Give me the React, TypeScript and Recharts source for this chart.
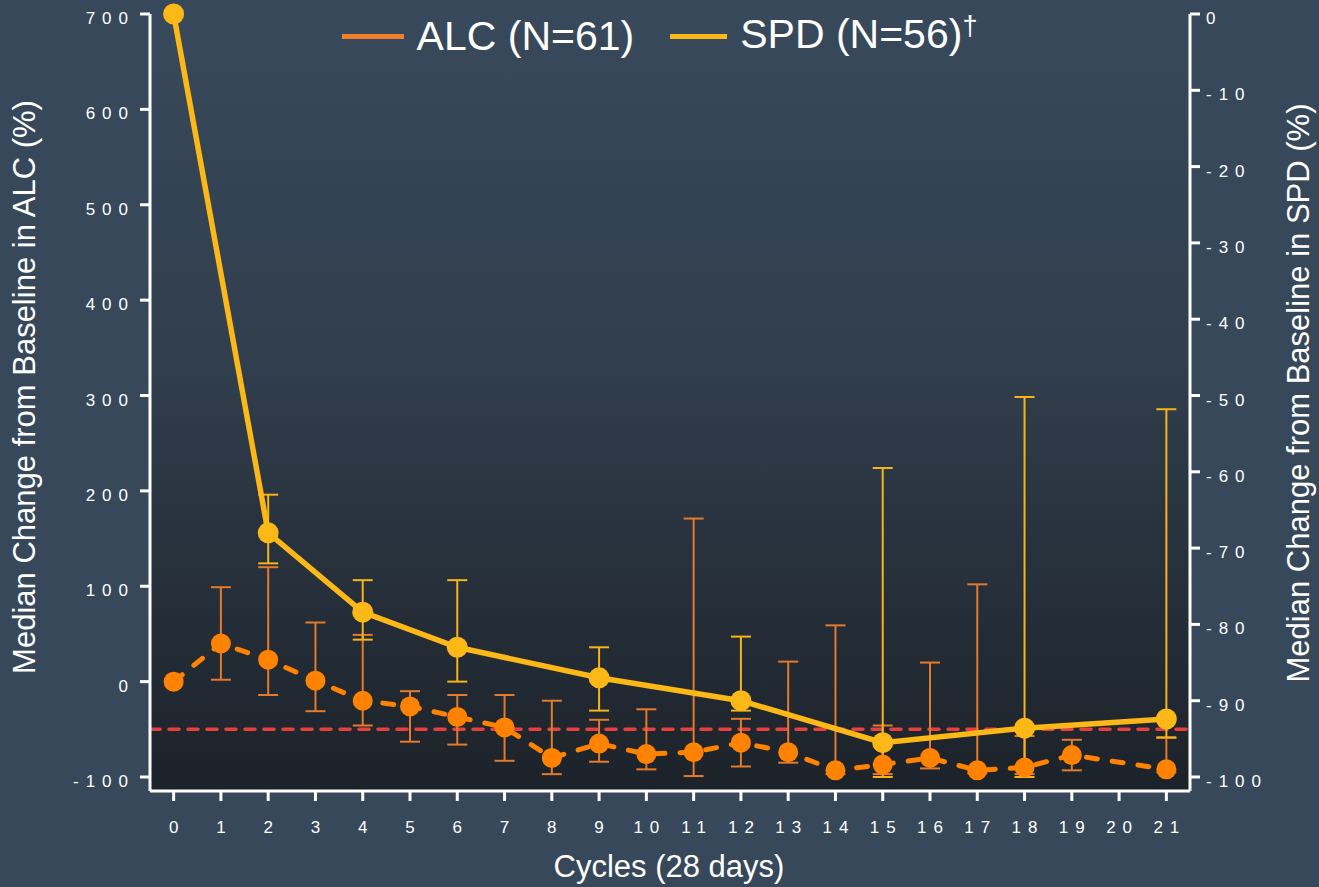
import React from 'react'
import { LineChart, Line, XAxis, YAxis, ErrorBar, ReferenceLine, CartesianGrid, Legend } from 'recharts'

const FONT = '"Liberation Sans", Arial, sans-serif'
const BG = '#37485a'
const ALC_COLOR = '#ff8200'
const ALC_BAR = '#e47a2c'
const ALC_LEGEND = '#f08029'
const SPD_COLOR = '#fbb817'
const SPD_BAR = '#f6b418'

// cycles (28 days)
const CYCLES = [0, 1, 2, 3, 4, 5, 6, 7, 8, 9, 10, 11, 12, 13, 14, 15, 16, 17, 18, 19, 20, 21]

// ALC median change from baseline (%), with lower / upper error bounds
const ALC_MEDIAN = [0, 40, 23, 1, -20, -26, -37, -48, -80, -65, -76, -74, -64, -74, -93, -87, -80, -93, -90, -77, null, -92]
const ALC_LOW = [null, 2, -14, -31, -46, -63, -66, -83, -97, -84, -92, -99, -89, -85, -97, -97, -91, -96, -97, -93, null, -95]
const ALC_HIGH = [null, 99, 120, 62, 49, -10, -14, -14, -20, -40, -29, 171, -39, 21, 59, -46, 20, 102, -57, -61, null, -59]

// SPD median change from baseline (%), right axis
const SPD_MEDIAN = [0, null, -68, null, -78.4, null, -83, null, null, -87, null, null, -90, null, null, -95.5, null, null, -93.6, null, null, -92.4]
const SPD_LOW = [null, null, -72, null, -82, null, -87.5, null, null, -91.3, null, null, -91.3, null, null, -100, null, null, -100, null, null, -94.8]
const SPD_HIGH = [null, null, -63, null, -74.2, null, -74.2, null, null, -83, null, null, -81.6, null, null, -59.5, null, null, -50.2, null, null, -51.8]

const LEFT_TICKS = [-100, 0, 100, 200, 300, 400, 500, 600, 700]
const RIGHT_TICKS = [-100, -90, -80, -70, -60, -50, -40, -30, -20, -10, 0]
const THRESHOLD = -50

const data = CYCLES.map((c, i) => {
  const a = ALC_MEDIAN[i]
  const s = SPD_MEDIAN[i]
  return {
    cycle: c,
    alc: a,
    alcErr: a != null && ALC_LOW[i] != null ? [a - (ALC_LOW[i] as number), (ALC_HIGH[i] as number) - a] : undefined,
    spd: s,
    spdErr: s != null && SPD_LOW[i] != null ? [s - (SPD_LOW[i] as number), (SPD_HIGH[i] as number) - s] : undefined,
  }
})

const tickText = { fill: '#fff', fontSize: 17, fontFamily: FONT, letterSpacing: 7 }

function LeftTick({ x, y, payload }: any) {
  return <text x={x} y={y} dx={-3} dy={10} textAnchor="end" {...tickText}>{payload.value}</text>
}

function RightTick({ x, y, payload }: any) {
  return <text x={x} y={y} dx={4} dy={10} textAnchor="start" {...tickText}>{payload.value}</text>
}

function BottomTick({ x, y, payload }: any) {
  return <text x={x} y={y} dx={3.5} dy={30} textAnchor="middle" {...tickText}>{payload.value}</text>
}

const titleStyle = { fill: '#fff', fontSize: 31, fontFamily: FONT }

function LegendContent() {
  const item = (color: string, label: React.ReactNode, iconW: number) => (
    <div style={{ display: 'flex', alignItems: 'center', height: 41 }}>
      <div style={{ width: iconW, height: 5, background: color, marginRight: 13 }} />
      <span style={{ fontSize: 41, lineHeight: '41px', color: '#fff', fontFamily: FONT, whiteSpace: 'nowrap' }}>{label}</span>
    </div>
  )
  return (
    <div style={{ display: 'flex', justifyContent: 'center', gap: 36 }}>
      {item(ALC_LEGEND, 'ALC (N=61)', 62)}
      {item(
        SPD_COLOR,
        <>
          SPD (N=56)
          <span style={{ fontSize: 27, position: 'relative', top: -13 }}>†</span>
        </>,
        57,
      )}
    </div>
  )
}

export default function App() {
  return (
    <div style={{ position: 'fixed', left: 0, top: 0, width: 1319, height: 887, background: BG, fontFamily: FONT }}>
      <LineChart width={1319} height={887} data={data} margin={{ top: 14, right: 0, bottom: 0, left: 0 }}>
        <defs>
          <linearGradient id="plotBg" x1="0" y1="0" x2="0" y2="1">
            <stop offset="0" stopColor="#38495b" />
            <stop offset="0.45" stopColor="#313e4d" />
            <stop offset="1" stopColor="#1c2229" />
          </linearGradient>
        </defs>
        <CartesianGrid horizontal={false} vertical={false} fill="url(#plotBg)" stroke="none" />
        <XAxis
          dataKey="cycle"
          type="number"
          domain={[-0.5, 21.5]}
          ticks={CYCLES}
          interval={0}
          height={96}
          axisLine={{ stroke: '#fff', strokeWidth: 3 }}
          tickLine={{ stroke: '#fff', strokeWidth: 3 }}
          tickSize={10}
          tick={<BottomTick />}
          label={() => (
            <text x={669} y={877} textAnchor="middle" {...titleStyle}>Cycles (28 days)</text>
          )}
        />
        <YAxis
          yAxisId="alc"
          orientation="left"
          width={150}
          domain={[-100, 700]}
          ticks={LEFT_TICKS}
          interval={0}
          padding={{ top: 0, bottom: 14 }}
          axisLine={{ stroke: '#fff', strokeWidth: 3 }}
          tickLine={{ stroke: '#fff', strokeWidth: 3 }}
          tickSize={10}
          tick={<LeftTick />}
          label={() => (
            <text x={35} y={387} transform="rotate(-90 35 387)" textAnchor="middle" {...titleStyle}>
              Median Change from Baseline in ALC (%)
            </text>
          )}
        />
        <YAxis
          yAxisId="spd"
          orientation="right"
          width={129}
          domain={[-100, 0]}
          ticks={RIGHT_TICKS}
          interval={0}
          padding={{ top: 0, bottom: 14 }}
          axisLine={{ stroke: '#fff', strokeWidth: 3 }}
          tickLine={{ stroke: '#fff', strokeWidth: 3 }}
          tickSize={10}
          tick={<RightTick />}
          label={() => (
            <text x={1309} y={393} transform="rotate(-90 1309 393)" textAnchor="middle" {...titleStyle}>
              Median Change from Baseline in SPD (%)
            </text>
          )}
        />
        <Legend verticalAlign="middle" align="center" layout="horizontal" wrapperStyle={{ top: 16, left: 0, width: 1319 }} content={<LegendContent />} />
        <ReferenceLine yAxisId="alc" y={THRESHOLD} stroke="#e8403f" strokeWidth={3.5} strokeDasharray="10 9" strokeLinecap="round" />
        <Line
          yAxisId="alc"
          dataKey="alc"
          name="ALC (N=61)"
          stroke={ALC_COLOR}
          strokeWidth={5}
          strokeDasharray="11 15"
          strokeLinecap="round"
          connectNulls
          dot={{ r: 10, fill: ALC_COLOR, stroke: 'none' }}
          activeDot={false}
          isAnimationActive={false}
        >
          <ErrorBar dataKey="alcErr" direction="y" width={10} stroke={ALC_BAR} strokeWidth={2} />
        </Line>
        <Line
          yAxisId="spd"
          dataKey="spd"
          name="SPD (N=56)"
          stroke={SPD_COLOR}
          strokeWidth={5.5}
          connectNulls
          dot={{ r: 10.5, fill: SPD_COLOR, stroke: 'none' }}
          activeDot={false}
          isAnimationActive={false}
        >
          <ErrorBar dataKey="spdErr" direction="y" width={10} stroke={SPD_BAR} strokeWidth={2} />
        </Line>
      </LineChart>
    </div>
  )
}
